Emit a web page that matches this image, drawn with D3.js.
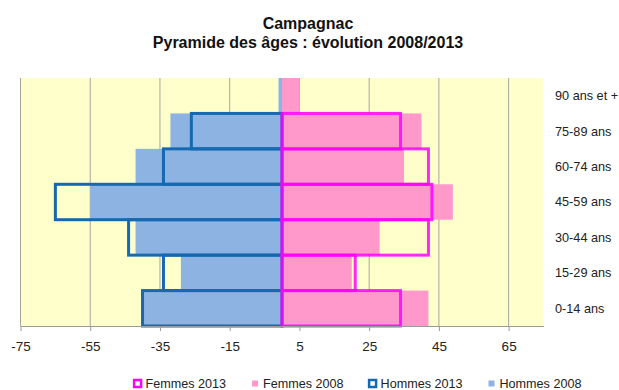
<!DOCTYPE html>
<html>
<head>
<meta charset="utf-8">
<script src="https://cdn.jsdelivr.net/npm/d3@7"></script>
<style>
  html, body { margin: 0; padding: 0; background: #ffffff; }
  svg { display: block; font-family: "Liberation Sans", Arial, sans-serif; }
</style>
</head>
<body>
<svg id="chart" width="619" height="390"></svg>
<script>
// Age groups, top to bottom
const categories = ["90 ans et +", "75-89 ans", "60-74 ans", "45-59 ans", "30-44 ans", "15-29 ans", "0-14 ans"];
// Women on the right (positive), men on the left (negative)
const femmes2013 = [0, 34, 42, 43, 42, 21, 34];
const femmes2008 = [5, 40, 35, 49, 28, 20, 42];
const hommes2013 = [0, -26, -34, -65, -44, -34, -40];
const hommes2008 = [-1, -32, -42, -55, -42, -29, -40];
const xTicks = [-75, -55, -35, -15, 5, 25, 45, 65];
const titleLines = ["Campagnac", "Pyramide des âges : évolution 2008/2013"];

const colors = {
  plotBg: "#ffffcc",
  grid: "#a6a6a0",
  femmesFill: "#ff99cc",
  hommesFill: "#8db3e2",
  femmesLine: "#ff00ff",
  hommesLine: "#1569b0"
};

const svg = d3.select("#chart");
const plot = { left: 20.5, right: 543.5, top: 78, bottom: 326 };

const x = d3.scaleLinear().domain([-75, 75]).range([plot.left, plot.right]);
const y = d3.scaleBand().domain(categories).range([plot.top, plot.bottom]).padding(0);

// Title
svg.append("g").selectAll("text").data(titleLines).join("text")
  .attr("x", 308)
  .attr("y", (d, i) => 28.5 + i * 19.5)
  .attr("text-anchor", "middle")
  .attr("font-size", 16)
  .attr("font-weight", "bold")
  .attr("fill", "#111")
  .text(d => d);

// Plot background
svg.append("rect")
  .attr("x", plot.left).attr("y", plot.top)
  .attr("width", plot.right - plot.left).attr("height", plot.bottom - plot.top)
  .attr("fill", colors.plotBg);

// Vertical gridlines
svg.append("g").selectAll("line").data(xTicks).join("line")
  .attr("x1", d => x(d)).attr("x2", d => x(d))
  .attr("y1", plot.top).attr("y2", plot.bottom)
  .attr("stroke", colors.grid).attr("stroke-width", 1);

const rows = categories.map((c, i) => ({
  cat: c, f13: femmes2013[i], f08: femmes2008[i], h13: hommes2013[i], h08: hommes2008[i]
}));

function barX(v) { return x(Math.min(0, v)); }
function barW(v) { return Math.abs(x(v) - x(0)); }

// 2008 filled bars
svg.append("g").selectAll("rect").data(rows).join("rect")
  .attr("x", d => barX(d.h08)).attr("width", d => barW(d.h08))
  .attr("y", d => y(d.cat)).attr("height", y.bandwidth())
  .attr("fill", colors.hommesFill);
svg.append("g").selectAll("rect").data(rows).join("rect")
  .attr("x", d => barX(d.f08)).attr("width", d => barW(d.f08))
  .attr("y", d => y(d.cat)).attr("height", y.bandwidth())
  .attr("fill", colors.femmesFill);

// 2013 outlined bars
svg.append("g").selectAll("rect").data(rows.filter(d => d.h13 !== 0)).join("rect")
  .attr("x", d => barX(d.h13)).attr("width", d => barW(d.h13))
  .attr("y", d => y(d.cat)).attr("height", y.bandwidth())
  .attr("fill", "none").attr("stroke", colors.hommesLine).attr("stroke-width", 3);
svg.append("g").selectAll("rect").data(rows.filter(d => d.f13 !== 0)).join("rect")
  .attr("x", d => barX(d.f13)).attr("width", d => barW(d.f13))
  .attr("y", d => y(d.cat)).attr("height", y.bandwidth())
  .attr("fill", "none").attr("stroke", colors.femmesLine).attr("stroke-width", 3)
  .attr("stroke-opacity", 0.85);

// Bottom axis
const axis = svg.append("g")
  .attr("transform", `translate(0,${plot.bottom})`)
  .call(d3.axisBottom(x).tickValues(xTicks).tickSize(5).tickSizeOuter(0).tickPadding(10).tickFormat(d3.format("d")));
axis.select(".domain").attr("stroke", "#9a9a9a");
axis.selectAll(".tick line").attr("stroke", "#9a9a9a");
axis.selectAll(".tick text")
  .attr("font-family", "'Liberation Sans', Arial, sans-serif")
  .attr("font-size", 13.5).attr("fill", "#222")
  .text(d => d < 0 ? "-" + Math.abs(d) : String(d));

// Category labels on the right
svg.append("g").selectAll("text").data(categories).join("text")
  .attr("x", 555)
  .attr("y", d => y(d) + y.bandwidth() / 2)
  .attr("dy", "0.35em")
  .attr("font-size", 12.7)
  .attr("fill", "#222")
  .text(d => d);

// Legend
const legendItems = [
  { name: "Femmes 2013", type: "outline", color: colors.femmesLine },
  { name: "Femmes 2008", type: "fill", color: colors.femmesFill },
  { name: "Hommes 2013", type: "outline", color: colors.hommesLine },
  { name: "Hommes 2008", type: "fill", color: colors.hommesFill }
];
const legend = svg.append("g");
const legendY = 383.5;
const items = legend.selectAll("g").data(legendItems).join("g");
items.each(function (d) {
  const g = d3.select(this);
  if (d.type === "outline") {
    g.append("rect").attr("x", 1.5).attr("y", legendY - 3.5).attr("width", 7).attr("height", 7)
      .attr("fill", "#fff").attr("stroke", d.color).attr("stroke-width", 2.5);
  } else {
    g.append("rect").attr("x", 2).attr("y", legendY - 3).attr("width", 6).attr("height", 6)
      .attr("fill", d.color);
  }
  const t = g.append("text").attr("x", 13).attr("y", legendY).attr("dy", "0.35em")
    .attr("font-size", 12.6).attr("fill", "#222").text(d.name);
  d.w = 13 + t.node().getComputedTextLength();
});
const gap = 24;
const total = d3.sum(legendItems, d => d.w) + gap * (legendItems.length - 1);
let start = 357 - total / 2;
items.attr("transform", d => { const tx = start; start += d.w + gap; return `translate(${tx},0)`; });
</script>
</body>
</html>
